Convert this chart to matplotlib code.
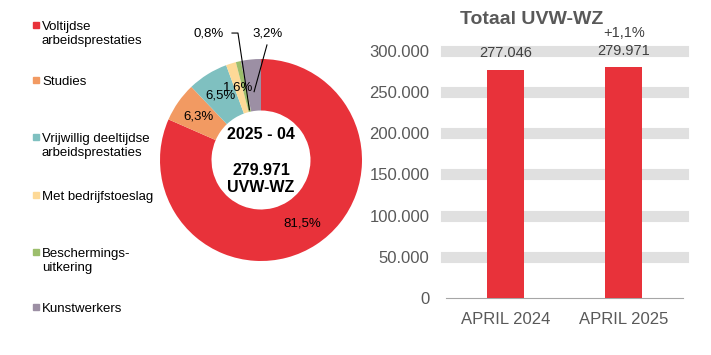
import numpy as np
import matplotlib
matplotlib.use("Agg")
import matplotlib.pyplot as plt
from matplotlib.patches import Rectangle

plt.rcParams['font.family'] = ['Liberation Sans', 'DejaVu Sans']

# donut data (share in %, 2025 - 04)
categories = ['Voltijdse\narbeidsprestaties', 'Studies', 'Vrijwillig deeltijdse\narbeidsprestaties',
              'Met bedrijfstoeslag', 'Beschermings-\nuitkering', 'Kunstwerkers']
shares = [81.5, 6.3, 6.5, 1.6, 0.8, 3.2]
colors = ['#E8323A', '#F29A62', '#7FC0C0', '#FDD997', '#9CBE6C', '#9C8FA4']
total_label = '279.971'
period_label = '2025 - 04'

# bar data
periods = ['APRIL 2024', 'APRIL 2025']
totals = [277046, 279971]
growth = '+1,1%'

W, H = 711, 355
fig = plt.figure(figsize=(W / 100, H / 100), dpi=100)


def px_axes(x0, y0, x1, y1):
    # pixel box (top-left origin) -> figure axes
    return fig.add_axes([x0 / W, 1 - y1 / H, (x1 - x0) / W, (y1 - y0) / H])


def dutch(v):
    return f"{v:,}".replace(',', '.')


# ---- donut ----
cx, cy, r = 261, 160, 101
ax = px_axes(cx - r, cy - r, cx + r, cy + r)
wedges, _ = ax.pie(shares, colors=colors, startangle=90, counterclock=False,
                   radius=1, wedgeprops=dict(width=0.51, linewidth=0))
ax.set_xlim(-1, 1)
ax.set_ylim(-1, 1)
ax.set_aspect('equal')
ax.axis('off')

mids = [np.deg2rad((w.theta1 + w.theta2) / 2) for w in wedges]
for i in range(4):
    ax.text(0.75 * np.cos(mids[i]), 0.75 * np.sin(mids[i]), f"{shares[i]:.1f}%".replace('.', ','),
            ha='center', va='center', fontsize=9.5, color='black')

# outside labels with leader lines
ax.text(-0.515, 1.257, f"{shares[4]:.1f}%".replace('.', ','), ha='center', va='center',
        fontsize=9.5, clip_on=False)
ax.plot([-0.287, -0.228, 0.51 * np.cos(mids[4])], [1.257, 1.257, 0.51 * np.sin(mids[4])],
        color='black', lw=0.8, clip_on=False)
ax.text(0.064, 1.257, f"{shares[5]:.1f}%".replace('.', ','), ha='center', va='center',
        fontsize=9.5, clip_on=False)
ax.plot([0.059, 0.68 * np.cos(mids[5])], [1.139, 0.68 * np.sin(mids[5])],
        color='black', lw=0.8, clip_on=False)

ax.text(0, 0.25, period_label, ha='center', va='center', fontsize=11.5, fontweight='bold')
ax.text(0, -0.1, total_label, ha='center', va='center', fontsize=11.5, fontweight='bold')
ax.text(0, -0.27, 'UVW-WZ', ha='center', va='center', fontsize=11.5, fontweight='bold')

# legend
leg_y = [25, 80, 137, 195, 252, 307]
for lab, col, y in zip(categories, colors, leg_y):
    fig.patches.append(Rectangle((33 / W, 1 - (y + 3) / H), 6 / W, 6 / H, color=col,
                                 transform=fig.transFigure))
    fig.text(42 / W, 1 - (y - 4) / H, lab, ha='left', va='top', fontsize=9.5,
             linespacing=1.2, color='black')

# ---- bars ----
bx = px_axes(446, 46, 683, 298)
x = np.arange(len(periods))
bx.bar(x, totals, width=0.31, color='#E8323A', zorder=3)
bx.set_xlim(-0.5, 1.5)
bx.set_ylim(0, 306000)
ticks = np.arange(0, 300001, 50000)
bx.set_yticks(ticks)
bx.set_yticklabels([dutch(t) for t in ticks])
for t in ticks[1:]:
    bx.axhline(t, color='#E0E0E0', lw=8, zorder=0, clip_on=False)
bx.set_xticks(x)
bx.set_xticklabels(periods)
bx.tick_params(length=0, labelsize=12, colors='#595959')
bx.tick_params(axis='x', pad=10)
bx.tick_params(axis='y', pad=12)
for s in ['top', 'right', 'left']:
    bx.spines[s].set_visible(False)
bx.spines['bottom'].set_color('#A6A6A6')

for i, v in enumerate(totals):
    bx.annotate(dutch(v), (x[i], v), xytext=(0, 7), textcoords='offset points',
                ha='center', va='bottom', fontsize=10.5, color='#404040')
bx.annotate(growth, (x[1], totals[1]), xytext=(0, 20), textcoords='offset points',
            ha='center', va='bottom', fontsize=10.5, color='#404040')

fig.text(532 / W, 1 - 19 / H, 'Totaal UVW-WZ', ha='center', va='center', fontsize=14,
         fontweight='bold', color='#595959')

fig.savefig('out.png', dpi=100)
